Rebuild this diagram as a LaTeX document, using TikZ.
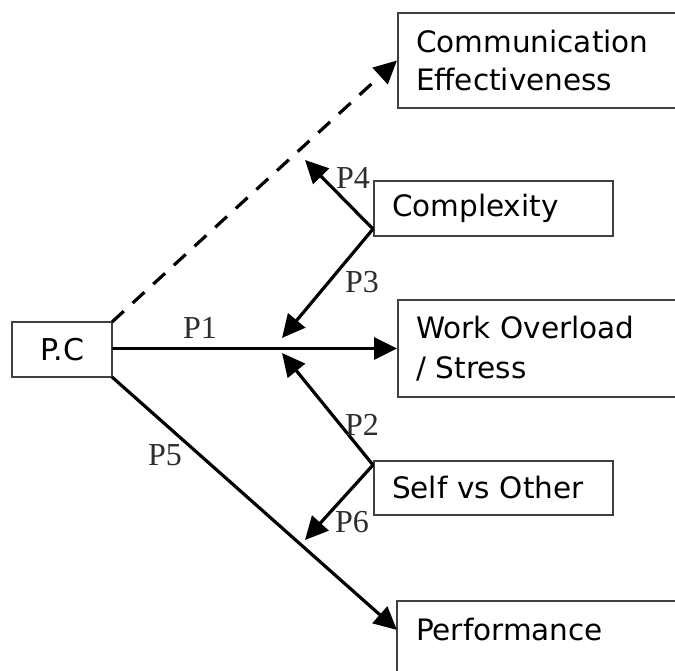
\documentclass[tikz,border=0pt]{standalone}
\usepackage{fontspec}
\setmainfont{DejaVu Sans}
\newfontfamily\labelfont{Liberation Serif}
\usetikzlibrary{arrows.meta,calc}

\definecolor{boxgray}{RGB}{64,64,64}
\definecolor{labelgray}{RGB}{45,45,45}

\begin{document}
\begin{tikzpicture}[x=1pt,y=-1pt,
  box/.style={draw=boxgray, line width=2pt, anchor=north west,
    inner xsep=18pt, inner ysep=0pt, align=left,
    font=\fontsize{29.5}{40}\selectfont, text=black},
  link/.style={line width=3.2pt, -{Triangle[length=23pt,width=22pt]}},
  plabel/.style={font=\labelfont\fontsize{32}{32}\selectfont,
    text=labelgray, inner sep=0pt},
]
\useasboundingbox (0,0) rectangle (675,671);
\clip (0,0) rectangle (675,671);

% boxes
\node[box, draw=none, align=center, anchor=center, inner xsep=0pt,
  minimum width=98pt, minimum height=53pt,
  font=\fontsize{30}{36}\selectfont] (pc) at (62,349.5) {P.C};
\draw[boxgray, line width=2pt] (pc.north west) rectangle (pc.south east);

\node[box, text width=300pt, minimum height=95pt] (comm) at (397,12)
  {Communication\\[-2pt]Effectiveness};
\node[box, text width=203pt, minimum height=55pt] (cx) at (373,180)
  {Complexity};
\node[box, text width=300pt, minimum height=97pt] (wo) at (397,299)
  {Work Overload\\/ Stress};
\node[box, text width=203pt, minimum height=54pt] (sv) at (373,460)
  {Self vs Other};
\node[box, draw=none, text width=300pt, minimum height=54pt] (perf) at (397,601)
  {Performance};
\draw[boxgray, line width=2pt] (perf.north west) rectangle ($(perf.north east)+(0,120)$);

% junction points on the box sides and free arrow ends
\coordinate (cxj) at ($(cx.south west)+(0,-8)$);
\coordinate (svj) at ($(sv.north west)+(0,5)$);
\coordinate (p4tip) at (305,160);
\coordinate (p3tip) at (282,338);
\coordinate (p2tip) at (282,353);
\coordinate (p6tip) at (305,540);
\coordinate (perfin) at ($(perf.north west)+(0,29)$);

% connectors
\draw[link, dash pattern=on 16pt off 12pt] (pc.north east) -- (comm.west);
\draw[link] (wo.west -| pc.east) -- (wo.west);
\draw[link] (pc.south east) -- (perfin);
\draw[link] (cxj) -- (p4tip);
\draw[link] (cxj) -- (p3tip);
\draw[link] (svj) -- (p2tip);
\draw[link] (svj) -- (p6tip);

% path labels
\node[plabel] (l1) at (200,328) {P1};
\node[plabel] (l2) at (362,425) {P2};
\node[plabel] (l3) at (362,282) {P3};
\node[plabel] (l4) at (353,178) {P4};
\node[plabel] (l5) at (165,455) {P5};
\node[plabel] (l6) at (352,522) {P6};
\end{tikzpicture}
\end{document}
